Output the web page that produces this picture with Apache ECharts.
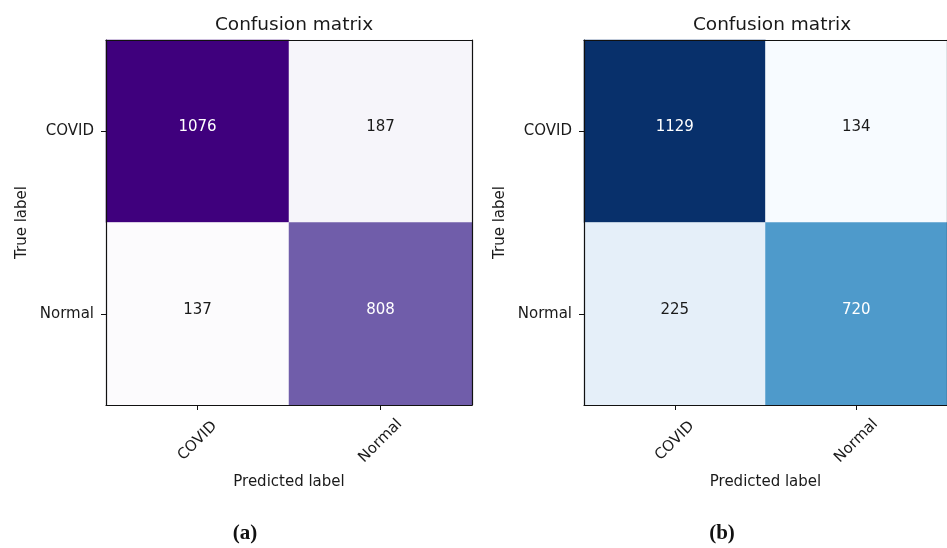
<!DOCTYPE html>
<html>
<head>
<meta charset="utf-8">
<script src="https://cdn.jsdelivr.net/npm/echarts@6/dist/echarts.min.js"></script>
<style>
  html, body { margin: 0; padding: 0; background: #fff; }
  #chart { width: 947px; height: 548px; }
</style>
</head>
<body>
<div id="chart"></div>
<script>
// Class labels shared by both matrices
const predictedLabels = ['COVID', 'Normal'];
const trueLabels = ['COVID', 'Normal'];

// Confusion matrix counts, rows = true label, columns = predicted label
const matrixA = [
  [1076, 187],
  [137, 808]
];
const matrixB = [
  [1129, 134],
  [225, 720]
];

// Sequential colour ramps (Purples and Blues, light to dark)
const purples = ['#fcfbfd', '#efedf5', '#dadaeb', '#bcbddc', '#9e9ac8', '#807dba', '#6a51a3', '#54278f', '#3f007d'];
const blues = ['#f7fbff', '#deebf7', '#c6dbef', '#9ecae1', '#6baed6', '#4292c6', '#2171b5', '#08519c', '#08306b'];

const FONT = 'DejaVu Sans';
const TXT = '#1a1a1a';

// Cell items; counts above half the maximum get white text
function cells(m) {
  const flat = m.flat();
  const thresh = Math.max(...flat) / 2;
  const out = [];
  m.forEach((row, r) => row.forEach((v, c) => {
    out.push({ value: [c, r, v], label: { color: v > thresh ? '#ffffff' : '#1a1a1a' } });
  }));
  return out;
}

const grids = [
  { left: 106, top: 40, width: 366, height: 365 },
  { left: 584, top: 40, width: 366, height: 365 }
];

const frameLine = { show: true, lineStyle: { color: '#111', width: 1.2 } };

const xAxes = [], yAxes = [];
grids.forEach((g, i) => {
  xAxes.push({
    type: 'category', gridIndex: i, data: predictedLabels, position: 'bottom', z: 10,
    name: 'Predicted label', nameLocation: 'middle', nameGap: 70,
    nameTextStyle: { fontFamily: FONT, fontSize: 15, color: TXT },
    axisLine: frameLine,
    axisTick: { show: true, alignWithLabel: true, length: 5, lineStyle: { color: '#111' } },
    axisLabel: { rotate: 45, margin: 36, align: 'center', verticalAlign: 'middle',
      fontFamily: FONT, fontSize: 15, color: TXT },
    splitLine: { show: false }, splitArea: { show: false }
  });
  xAxes.push({
    type: 'category', gridIndex: i, data: predictedLabels, position: 'top', z: 10,
    axisLine: frameLine,
    axisTick: { show: false }, axisLabel: { show: false }, splitLine: { show: false }
  });
  yAxes.push({
    type: 'category', gridIndex: i, data: trueLabels, inverse: true, position: 'left', z: 10,
    name: 'True label', nameLocation: 'middle', nameGap: 76, nameRotate: 90,
    nameTextStyle: { fontFamily: FONT, fontSize: 15, color: TXT },
    axisLine: frameLine,
    axisTick: { show: true, alignWithLabel: true, length: 5, lineStyle: { color: '#111' } },
    axisLabel: { margin: 12, fontFamily: FONT, fontSize: 15, color: TXT },
    splitLine: { show: false }, splitArea: { show: false }
  });
  yAxes.push({
    type: 'category', gridIndex: i, data: trueLabels, inverse: true, position: 'right', z: 10,
    axisLine: frameLine,
    axisTick: { show: false }, axisLabel: { show: false }, splitLine: { show: false }
  });
});

const flatA = matrixA.flat(), flatB = matrixB.flat();

const captionRich = {
  p: { fontFamily: 'Liberation Serif', fontSize: 21, color: '#111' },
  b: { fontFamily: 'Liberation Serif', fontSize: 21, fontWeight: 'bold', color: '#111' }
};

const option = {
  backgroundColor: '#ffffff',
  animation: false,
  title: [
    { text: 'Confusion matrix', left: 289, top: 11, textAlign: 'center',
      textStyle: { fontFamily: FONT, fontSize: 18.5, fontWeight: 'normal', color: TXT } },
    { text: 'Confusion matrix', left: 767, top: 11, textAlign: 'center',
      textStyle: { fontFamily: FONT, fontSize: 18.5, fontWeight: 'normal', color: TXT } },
    { text: '{p|(}{b|a}{p|)}', left: 240, top: 518, textAlign: 'center',
      textStyle: { rich: captionRich } },
    { text: '{p|(}{b|b}{p|)}', left: 717, top: 518, textAlign: 'center',
      textStyle: { rich: captionRich } }
  ],
  grid: grids,
  xAxis: xAxes,
  yAxis: yAxes,
  visualMap: [
    { show: false, seriesIndex: 0, dimension: 2, min: Math.min(...flatA), max: Math.max(...flatA),
      inRange: { color: purples } },
    { show: false, seriesIndex: 1, dimension: 2, min: Math.min(...flatB), max: Math.max(...flatB),
      inRange: { color: blues } }
  ],
  series: [
    { type: 'heatmap', xAxisIndex: 0, yAxisIndex: 0, data: cells(matrixA),
      label: { show: true, fontFamily: FONT, fontSize: 15, offset: [0, -4] },
      itemStyle: { borderWidth: 0 } },
    { type: 'heatmap', xAxisIndex: 2, yAxisIndex: 2, data: cells(matrixB),
      label: { show: true, fontFamily: FONT, fontSize: 15, offset: [0, -4] },
      itemStyle: { borderWidth: 0 } }
  ]
};

const chart = echarts.init(document.getElementById('chart'), null, { renderer: 'canvas' });
chart.setOption(option);
</script>
</body>
</html>
